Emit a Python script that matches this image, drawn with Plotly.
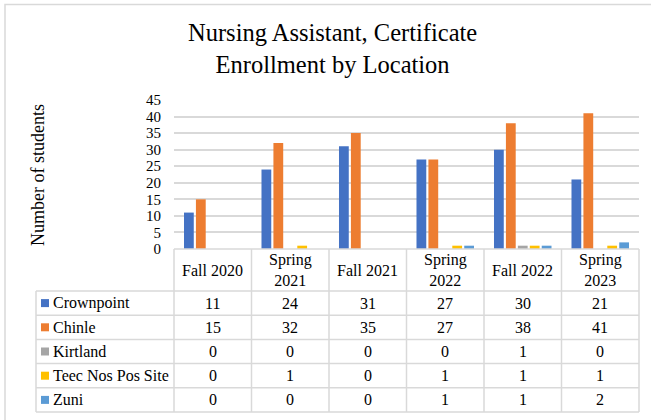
import plotly.graph_objects as go

categories = ["Fall 2020", "Spring 2021", "Fall 2021", "Spring 2022", "Fall 2022", "Spring 2023"]
category_labels = ["Fall 2020", "Spring<br>2021", "Fall 2021", "Spring<br>2022", "Fall 2022", "Spring<br>2023"]
series_names = ["Crownpoint", "Chinle", "Kirtland", "Teec Nos Pos Site", "Zuni"]
crownpoint = [11, 24, 31, 27, 30, 21]
chinle = [15, 32, 35, 27, 38, 41]
kirtland = [0, 0, 0, 0, 1, 0]
teec_nos_pos = [0, 1, 0, 1, 1, 1]
zuni = [0, 0, 0, 1, 1, 2]
series_values = [crownpoint, chinle, kirtland, teec_nos_pos, zuni]
colors = ["#4472C4", "#ED7D31", "#A5A5A5", "#FFC000", "#5B9BD5"]
y_ticks = [0, 5, 10, 15, 20, 25, 30, 35, 40, 45]

W, H = 651, 420
PL, PR, PT, PB = 174, 639, 100, 249  # plot area pixels
FONT = "Liberation Serif"
GRID = "#D9D9D9"
TFS = 16

def px(x):
    return (x - PL) / (PR - PL)

def py(y):
    return (PB - y) / (PB - PT)

fig = go.Figure()
for name, vals, col in zip(series_names, series_values, colors):
    fig.add_trace(go.Bar(x=categories, y=vals, name=name, marker_color=col,
                         marker_line_width=0, showlegend=False))

shapes = []
annotations = []
n = len(categories)
header_bottom = 291
table_bottom = 412
table_left = 36
row_h = (table_bottom - header_bottom) / len(series_names)

# vertical column lines
for i in range(n + 1):
    shapes.append(dict(type="line", xref="paper", yref="paper",
                       x0=i / n, x1=i / n, y0=py(PB), y1=py(table_bottom),
                       line=dict(color=GRID, width=1.5)))
# left border of legend column
shapes.append(dict(type="line", xref="paper", yref="paper",
                   x0=px(table_left), x1=px(table_left), y0=py(header_bottom), y1=py(table_bottom),
                   line=dict(color=GRID, width=1.5)))
# horizontal lines
shapes.append(dict(type="line", xref="paper", yref="paper",
                   x0=0, x1=1, y0=py(PB), y1=py(PB), line=dict(color=GRID, width=1.5)))
for r in range(len(series_names) + 1):
    yy = header_bottom + r * row_h
    shapes.append(dict(type="line", xref="paper", yref="paper",
                       x0=px(table_left), x1=1, y0=py(yy), y1=py(yy),
                       line=dict(color=GRID, width=1.5)))

# header labels
for i, lab in enumerate(category_labels):
    annotations.append(dict(xref="paper", yref="paper", x=(i + 0.5) / n,
                            y=py((PB + header_bottom) / 2), text=lab, showarrow=False,
                            font=dict(family=FONT, size=TFS, color="black"),
                            xanchor="center", yanchor="middle"))
# rows
for r, (name, vals, col) in enumerate(zip(series_names, series_values, colors)):
    yc = header_bottom + (r + 0.5) * row_h
    shapes.append(dict(type="rect", xref="paper", yref="paper",
                       x0=px(41), x1=px(49), y0=py(yc - 4), y1=py(yc + 4),
                       fillcolor=col, line=dict(width=0)))
    annotations.append(dict(xref="paper", yref="paper", x=px(51), y=py(yc), text=name,
                            showarrow=False, xanchor="left", yanchor="middle",
                            font=dict(family=FONT, size=TFS, color="black")))
    for i, v in enumerate(vals):
        annotations.append(dict(xref="paper", yref="paper", x=(i + 0.5) / n, y=py(yc),
                                text=str(v), showarrow=False, xanchor="center", yanchor="middle",
                                font=dict(family=FONT, size=TFS, color="black")))

# title
annotations.append(dict(xref="paper", yref="paper", x=px(332), y=py(48),
                        text="Nursing Assistant, Certificate<br>Enrollment by Location",
                        showarrow=False, xanchor="center", yanchor="middle",
                        font=dict(family=FONT, size=24.5, color="black")))
# y axis title
annotations.append(dict(xref="paper", yref="paper", x=px(38), y=py(175),
                        text="Number of students", textangle=-90, showarrow=False,
                        xanchor="center", yanchor="middle",
                        font=dict(family=FONT, size=18, color="black")))

# outer border
shapes.append(dict(type="rect", xref="paper", yref="paper",
                   x0=px(5), x1=px(652), y0=py(4.5), y1=py(422),
                   line=dict(color=GRID, width=1.5), fillcolor="rgba(0,0,0,0)"))

fig.update_layout(
    width=W, height=H,
    margin=dict(l=PL, r=W - PR, t=PT, b=H - PB),
    paper_bgcolor="white", plot_bgcolor="white",
    barmode="group", bargap=0.23, bargroupgap=0.18,
    shapes=shapes, annotations=annotations,
    font=dict(family=FONT, color="black"),
    xaxis=dict(showticklabels=False, showgrid=False, zeroline=False, showline=False,
               ticks=""),
    yaxis=dict(range=[0, 45], tickvals=y_ticks, showgrid=True, gridcolor=GRID, gridwidth=1.5,
               zeroline=False, showline=False, ticks="", ticklabelstandoff=12,
               tickfont=dict(family=FONT, size=15, color="black")),
)

fig.write_html("out.html", config={"displayModeBar": False},
               post_script="document.body.style.margin='0';document.body.style.overflow='hidden';")
